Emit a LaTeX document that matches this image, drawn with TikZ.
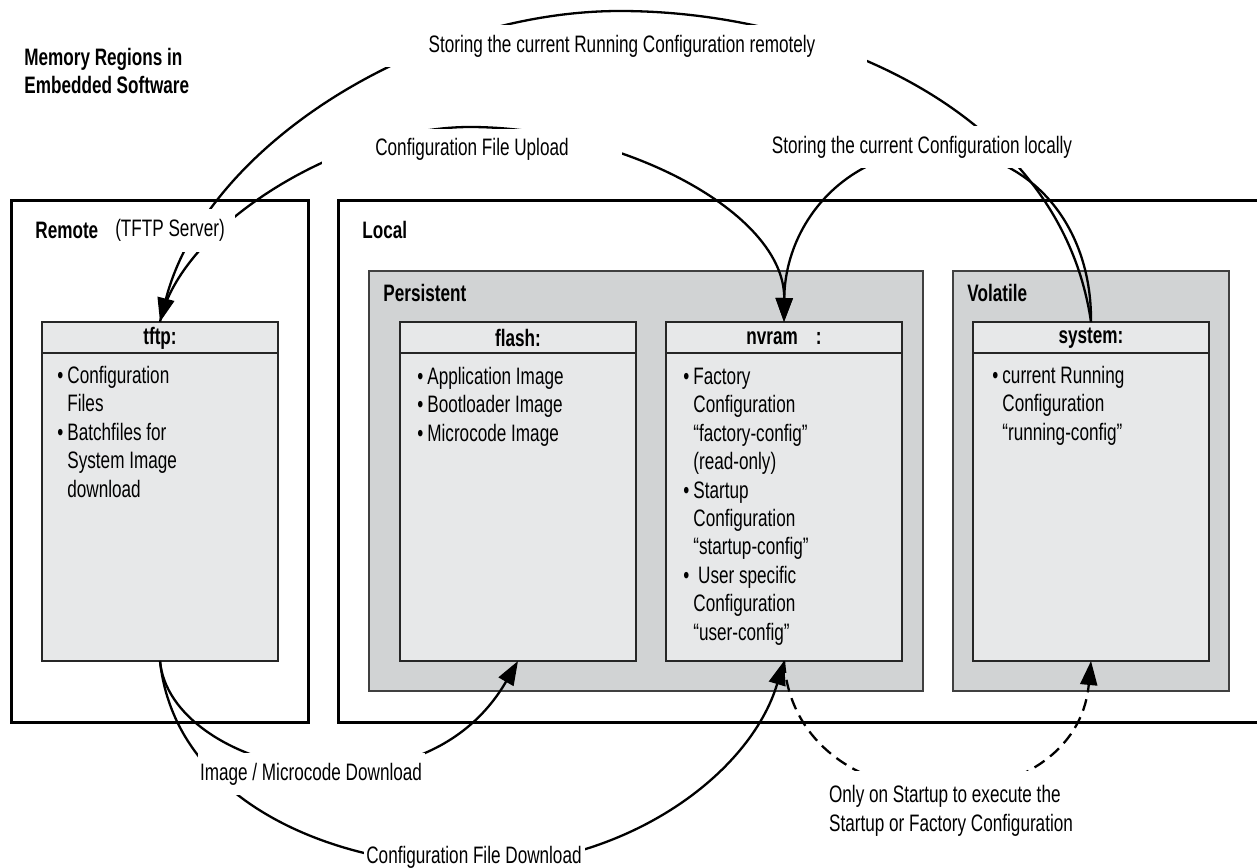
\documentclass[tikz,border=0pt]{standalone}
\usepackage{fontspec}
\setmainfont{Liberation Sans}[FakeStretch=0.72]
\usepackage{tikz}
\usetikzlibrary{arrows.meta,calc}
\definecolor{regiongray}{RGB}{209,211,212}
\definecolor{memgray}{RGB}{231,232,233}
\newcommand{\figfont}{\fontsize{11.9pt}{14.2pt}\selectfont}
\newcommand{\bitem}{\makebox[5pt][l]{\textbullet}}
\newcommand{\bcont}{\hspace*{5pt}}
\newcommand{\memlist}[1]{\begin{tabular}[t]{@{}l@{}}#1\end{tabular}}
\tikzstyle{outerbox} = [rectangle, draw=black, line width=1.5pt, anchor=north west, inner sep=0pt, outer sep=0pt]
\tikzstyle{regionbox} = [rectangle, draw=black!75, fill=regiongray, line width=1pt, anchor=north west, inner sep=0pt, outer sep=0pt]
\tikzstyle{membox} = [rectangle, draw=black!85, fill=memgray, line width=1pt, minimum width=118pt, minimum height=169.5pt, anchor=north west, inner sep=0pt, outer sep=0pt]
\tikzstyle{rlabel} = [font=\figfont\bfseries, anchor=base west, inner sep=0pt]
\tikzstyle{hdrtext} = [font=\figfont\bfseries, inner sep=0pt]
\tikzstyle{bodytext} = [font=\figfont, anchor=base west, inner sep=0pt]
\tikzstyle{flowlbl} = [font=\figfont, fill=white, inner sep=0pt]
\tikzstyle{flow} = [line width=1.15pt, -{Triangle[length=12pt,width=8.5pt]}]
\tikzstyle{startflow} = [flow, dash pattern=on 6pt off 3.5pt]

\begin{document}
\begin{tikzpicture}[x=0.5pt, y=-0.5pt]
    \useasboundingbox (0,0) rectangle (1257,867);

    % Title
    \node[rlabel] (title) at (24,65) {\memlist{Memory Regions in\\Embedded Software}};

    % Remote and local areas
    \node[outerbox, minimum width=148.5pt, minimum height=261pt] (remote) at (11,200) {};
    \node[outerbox, minimum width=471pt, minimum height=261pt] (local) at (338,200) {};
    \node[rlabel] (lblremote) at (35,238.5) {Remote};
    \node[rlabel] (lbllocal) at (362,238.5) {Local};

    % Persistent and volatile regions
    \node[regionbox, minimum width=277pt, minimum height=210pt] (persist) at (369,271) {};
    \node[regionbox, minimum width=138pt, minimum height=210pt] (volatile) at (953,271) {};
    \node[rlabel] (lblpersist) at (383,301.5) {Persistent};
    \node[rlabel] (lblvolatile) at (967,301.5) {Volatile};

    % Memory boxes
    \node[membox] (tftp) at (42,322) {};
    \node[membox] (flash) at (400,322) {};
    \node[membox] (nvram) at (666,322) {};
    \node[membox] (sysmem) at (973,322) {};
    \foreach \m in {tftp,flash,nvram,sysmem}
        \draw[line width=1pt, draw=black!85] ($(\m.north west)+(0,31)$) -- ($(\m.north east)+(0,31)$);

    % Box headers
    \node[hdrtext] (hdrtftp) at ($(tftp.north)+(0,16)$) {tftp:};
    \node[hdrtext] (hdrflash) at ($(flash.north)+(0,16)$) {flash:};
    \node[hdrtext] (hdrnvram) at ($(nvram.north)+(0,16)$) {nvram\hspace{9pt}:};
    \node[hdrtext] (hdrsys) at ($(sysmem.north)+(0,16)$) {system:};

    % Box contents
    \node[bodytext] (txttftp) at ($(tftp.north west)+(15,61.5)$) {\memlist{\bitem Configuration\\ \bcont Files\\ \bitem Batchfiles for\\ \bcont System Image\\ \bcont download}};
    \node[bodytext] (txtflash) at ($(flash.north west)+(17,62.5)$) {\memlist{\bitem Application Image\\ \bitem Bootloader Image\\ \bitem Microcode Image}};
    \node[bodytext] (txtnvram) at ($(nvram.north west)+(17,62.5)$) {\memlist{\bitem Factory\\ \bcont Configuration\\ \bcont “factory-config”\\ \bcont (read-only)\\ \bitem Startup\\ \bcont Configuration\\ \bcont “startup-config”\\ \bitem\ User specific\\ \bcont Configuration\\ \bcont “user-config”}};
    \node[bodytext] (txtsys) at ($(sysmem.north west)+(19,61.5)$) {\memlist{\bitem current Running\\ \bcont Configuration\\ \bcont “running-config”}};

    % Upper flows
    \coordinate (rpeak) at (620,11);
    \coordinate (upeak) at (470,127);
    \coordinate (lpeak) at (937,150);
    \draw[flow] (sysmem.north) .. controls (1060,110) and (820,11) .. (rpeak) .. controls (420,11) and (205,147) .. (tftp.north);
    \draw[flow] (tftp.north) .. controls (180,227) and (340,127) .. (upeak) .. controls (620,127) and (785,212) .. (nvram.north);
    \draw[flow] (sysmem.north) .. controls (1092,222) and (1027,150) .. (lpeak) .. controls (847,150) and (785,222) .. (nvram.north);

    % Lower flows
    \coordinate (dlow) at (474,866);
    \draw[flow] (tftp.south) .. controls (170,770) and (420,830) .. (flash.south);
    \draw[flow] (tftp.south) .. controls (175,800) and (330,866) .. (dlow) .. controls (625,866) and (750,775) .. (nvram.south);
    \draw[startflow] (nvram.south) .. controls (795,830) and (1075,830) .. (sysmem.south);

    % Flow labels
    \node[flowlbl, minimum width=245pt, minimum height=21pt] (lblremotely) at (622,46) {Storing the current Running Configuration remotely};
    \node[flowlbl, minimum width=150pt, minimum height=21pt] (lblupload) at (472,149.5) {Configuration File Upload};
    \node[flowlbl, minimum height=21pt, inner xsep=3pt] (lbllocally) at (922,147) {Storing the current Configuration locally};
    \node[flowlbl, minimum width=65pt, minimum height=21.5pt] (lbltftpsrv) at (170,230) {(TFTP Server)};
    \node[flowlbl, minimum width=113.5pt, minimum height=21pt] (lblimage) at (311,774) {Image / Microcode Download};
    \node[flowlbl, minimum width=110.5pt, minimum height=15pt] (lbldownload) at (474,857) {Configuration File Download};
    \node[flowlbl, align=left, minimum height=40pt, inner xsep=3pt] (lblstartup) at (951,811) {Only on Startup to execute the\\Startup or Factory Configuration};
\end{tikzpicture}
\end{document}
